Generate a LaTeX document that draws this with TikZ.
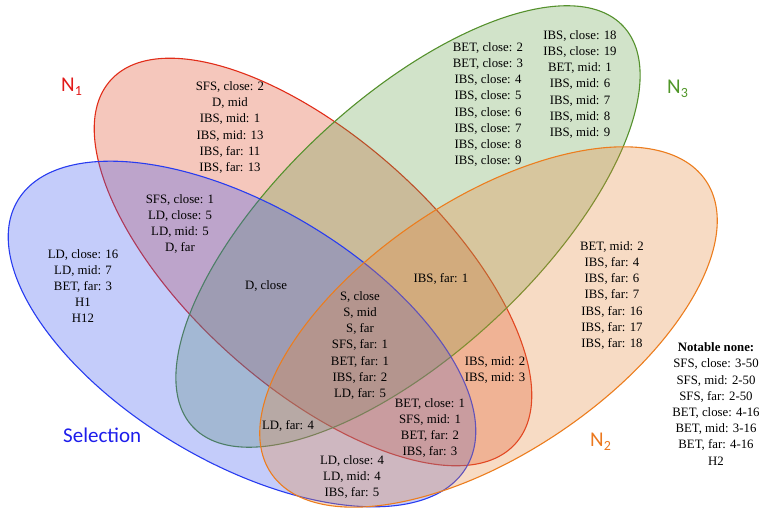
\documentclass[tikz,border=0pt]{standalone}
\usepackage{fontspec}
\setmainfont{Liberation Serif}
\newfontfamily\labelfont{Carlito}
\definecolor{bluefill}{RGB}{59,85,238}
\definecolor{redfill}{RGB}{222,69,33}
\definecolor{greenfill}{RGB}{102,161,77}
\definecolor{orangefill}{RGB}{230,135,59}
\definecolor{bluestroke}{RGB}{40,60,240}
\definecolor{redstroke}{RGB}{225,45,25}
\definecolor{greenstroke}{RGB}{85,145,45}
\definecolor{orangestroke}{RGB}{236,125,30}
\definecolor{bluelabel}{RGB}{30,30,235}
\definecolor{redlabel}{RGB}{225,25,25}
\definecolor{greenlabel}{RGB}{80,150,40}
\definecolor{orangelabel}{RGB}{235,120,30}
\begin{document}
\begin{tikzpicture}[x=1pt,y=1pt,
  setshape/.style={line width=1.1pt, fill opacity=0.3, draw opacity=1},
  region/.style={align=center, inner sep=0pt, font=\fontsize{12.8}{16.2}\selectfont},
  setlabel/.style={anchor=base west, inner sep=0pt, font=\labelfont\fontsize{21}{21}\selectfont}]
\useasboundingbox (0,0) rectangle (764,508);
% sets
\path[setshape, draw=redstroke, fill=redfill, rotate around={-41.9:(313,246)}] (313,246) ellipse (272 and 124);
\path[setshape, draw=greenstroke, fill=greenfill, rotate around={42.9:(408,281.5)}] (408,281.5) ellipse (294 and 127);
\path[setshape, draw=bluestroke, fill=bluefill, rotate around={-30.7:(242,174)}] (242,174) ellipse (261 and 128);
\path[setshape, draw=orangestroke, fill=orangefill, rotate around={33.9:(488.5,181)}] (488.5,181) ellipse (262 and 127);
% set labels
\node[setlabel, text=redlabel] (lN1) at (61,416) {N{\fontsize{14}{14}\selectfont\raisebox{-3.5pt}{1}}};
\node[setlabel, text=greenlabel] (lN3) at (667,414) {N{\fontsize{14}{14}\selectfont\raisebox{-3.5pt}{3}}};
\node[setlabel, text=orangelabel] (lN2) at (590,61) {N{\fontsize{14}{14}\selectfont\raisebox{-3.5pt}{2}}};
\node[setlabel, text=bluelabel] (lSel) at (63,65) {Selection};
% region texts
\node[region] (rN1) at (230,380.5) {SFS, close: 2\\D, mid\\IBS, mid: 1\\IBS, mid: 13\\IBS, far: 11\\IBS, far: 13};
\node[region] (rSN1) at (180,284) {SFS, close: 1\\LD, close: 5\\LD, mid: 5\\D, far};
\node[region] (rS) at (83,222) {LD, close: 16\\LD, mid: 7\\BET, far: 3\\H1\\H12};
\node[region] (rSN1N3) at (266,222) {D, close};
\node[region] (rAll) at (360,162.5) {S, close\\S, mid\\S, far\\SFS, far: 1\\BET, far: 1\\IBS, far: 2\\LD, far: 5};
\node[region] (rSN3N2) at (288,82) {LD, far: 4};
\node[region] (rSN2) at (352,31) {LD, close: 4\\LD, mid: 4\\IBS, far: 5};
\node[region] (rSN1N2) at (430,80) {BET, close: 1\\SFS, mid: 1\\BET, far: 2\\IBS, far: 3};
\node[region] (rN1N2) at (495,138) {IBS, mid: 2\\IBS, mid: 3};
\node[region] (rN1N2N3) at (441,229) {IBS, far: 1};
\node[region] (rN2) at (612,212.5) {BET, mid: 2\\IBS, far: 4\\IBS, far: 6\\IBS, far: 7\\IBS, far: 16\\IBS, far: 17\\IBS, far: 18};
\node[region] (rN3a) at (488,403.5) {BET, close: 2\\BET, close: 3\\IBS, close: 4\\IBS, close: 5\\IBS, close: 6\\IBS, close: 7\\IBS, close: 8\\IBS, close: 9};
\node[region] (rN3b) at (580,423.5) {IBS, close: 18\\IBS, close: 19\\BET, mid: 1\\IBS, mid: 6\\IBS, mid: 7\\IBS, mid: 8\\IBS, mid: 9};
\node[region] (rNone) at (716,104) {\textbf{Notable none:}\\SFS, close: 3-50\\SFS, mid: 2-50\\SFS, far: 2-50\\BET, close: 4-16\\BET, mid: 3-16\\BET, far: 4-16\\H2};
\end{tikzpicture}
\end{document}
